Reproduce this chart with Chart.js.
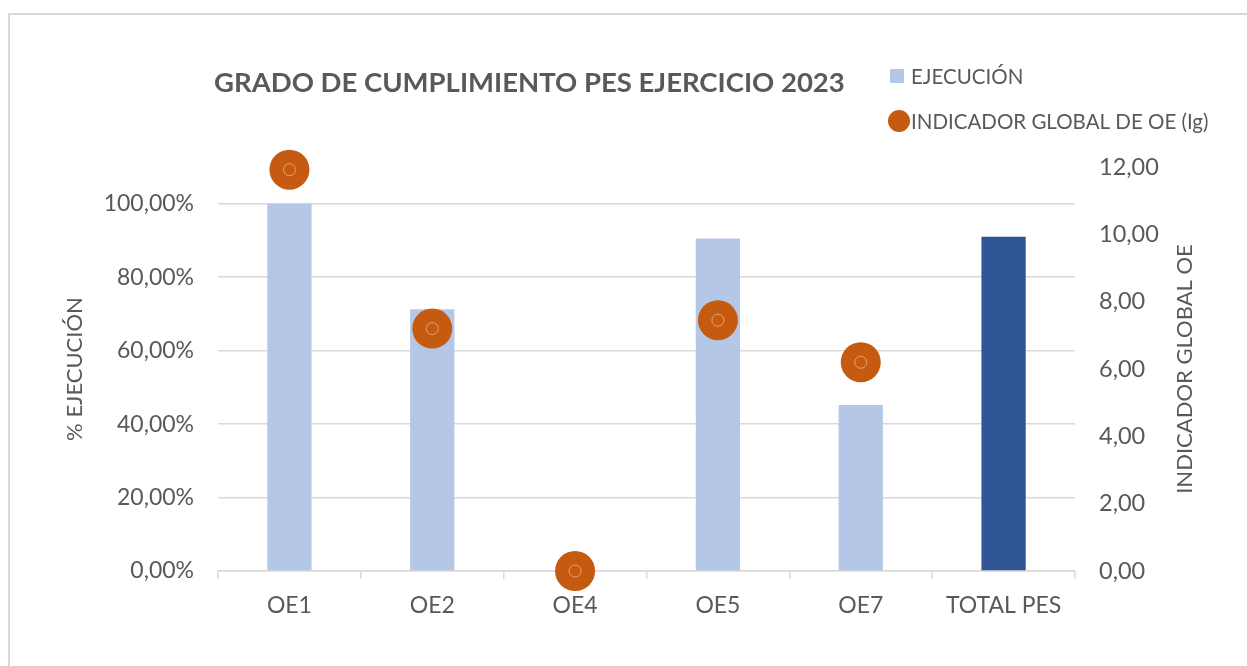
<!DOCTYPE html>
<html>
<head>
<meta charset="utf-8">
<script src="https://cdn.jsdelivr.net/npm/chart.js@4"></script>
<style>
    body { margin: 0; background: #fff; overflow: hidden; }
    #frame { position: absolute; left: 8px; top: 13px; width: 1260px; height: 700px; border: 2px solid #d9d9d9; }
    #wrap { position: absolute; left: 0; top: 0; width: 1247px; height: 666px; }
</style>
</head>
<body>
<div id="frame"></div>
<div id="wrap"><canvas id="chart" width="1247" height="666"></canvas></div>
<script>
const categories = ['OE1', 'OE2', 'OE4', 'OE5', 'OE7', 'TOTAL PES'];
const ejecucion = [100, 71.3, 0, 90.5, 45.2, 91.0];
const indicadorGlobal = [11.92, 7.2, 0, 7.45, 6.2, null];
const leftTicks = [0, 20, 40, 60, 80, 100];
const rightTicks = [0, 2, 4, 6, 8, 10, 12];

const FONT = 'Lato';
const GREY = '#595959';
const barColors = categories.map(c => c === 'TOTAL PES' ? '#2F5597' : '#B4C7E7');

const fmt = v => v.toFixed(2).replace('.', ',');

// title and legend sit in one row above the plot, so they are drawn here,
// plus the right axis title which reads bottom-to-top in the original
const headerPlugin = {
    id: 'header',
    afterDraw(chart) {
        const c = chart.ctx;
        c.save();
        c.fillStyle = GREY;
        c.textBaseline = 'middle';
        c.textAlign = 'left';
        c.font = `bold 27.5px ${FONT}`;
        c.fillText('GRADO DE CUMPLIMIENTO PES EJERCICIO 2023', 214, 83);

        c.font = `20.5px ${FONT}`;
        c.fillStyle = '#B4C7E7';
        c.fillRect(890, 69, 14, 14);
        c.fillStyle = GREY;
        c.fillText('EJECUCIÓN', 911, 77);

        c.fillStyle = '#C55A11';
        c.beginPath();
        c.arc(899, 121, 11, 0, Math.PI * 2);
        c.fill();
        c.fillStyle = GREY;
        c.fillText('INDICADOR GLOBAL DE OE (Ig)', 911, 122);

        const area = chart.chartArea;
        c.translate(1185, (area.top + area.bottom) / 2);
        c.rotate(-Math.PI / 2);
        c.textAlign = 'center';
        c.font = `22px ${FONT}`;
        c.fillText('INDICADOR GLOBAL OE', 0, 0);
        c.restore();
    }
};

const ctx = document.getElementById('chart').getContext('2d');
new Chart(ctx, {
    data: {
        labels: categories,
        datasets: [
            {
                type: 'line',
                label: 'INDICADOR GLOBAL DE OE (Ig)',
                data: indicadorGlobal,
                yAxisID: 'y1',
                showLine: false,
                pointRadius: 20,
                pointBackgroundColor: '#C55A11',
                pointBorderColor: '#C55A11',
                pointBorderWidth: 0,
                clip: false,
                order: 1
            },
            {
                type: 'line',
                label: 'ring',
                data: indicadorGlobal,
                yAxisID: 'y1',
                showLine: false,
                pointRadius: 6,
                pointBackgroundColor: 'rgba(0,0,0,0)',
                pointBorderColor: 'rgba(244, 177, 131, 0.8)',
                pointBorderWidth: 1,
                clip: false,
                order: 0
            },
            {
                type: 'bar',
                label: 'EJECUCIÓN',
                data: ejecucion,
                yAxisID: 'y',
                backgroundColor: barColors,
                categoryPercentage: 1,
                barPercentage: 0.31,
                order: 2
            }
        ]
    },
    options: {
        responsive: false,
        animation: false,
        layout: { padding: { top: 167, bottom: 0, left: 0, right: 0 } },
        plugins: {
            legend: { display: false },
            title: { display: false },
            tooltip: { enabled: false }
        },
        scales: {
            x: {
                offset: true,
                grid: { offset: true, drawOnChartArea: false, color: '#d9d9d9', lineWidth: 1.5, tickLength: 8 },
                border: { color: '#d9d9d9', width: 1.5 },
                ticks: { color: GREY, font: { family: FONT, size: 23 }, padding: 13 },
                afterFit: s => { s.height = 95; }
            },
            y: {
                position: 'left',
                min: 0,
                max: 110,
                afterBuildTicks: axis => { axis.ticks = leftTicks.map(v => ({ value: v })); },
                ticks: { color: GREY, font: { family: FONT, size: 23 }, padding: 24, callback: v => fmt(v) + '%' },
                grid: { color: '#d9d9d9', lineWidth: 1.5, drawTicks: false },
                border: { display: false },
                title: { display: true, text: '% EJECUCIÓN', color: GREY, font: { family: FONT, size: 22 }, padding: { top: 62, bottom: 0 } },
                afterFit: s => { s.width = 218; }
            },
            y1: {
                position: 'right',
                min: 0,
                max: 12,
                afterBuildTicks: axis => { axis.ticks = rightTicks.map(v => ({ value: v })); },
                ticks: { color: GREY, font: { family: FONT, size: 23.5 }, padding: 24, callback: v => fmt(v) },
                grid: { drawOnChartArea: false, drawTicks: false },
                border: { display: false },
                afterFit: s => { s.width = 172; }
            }
        }
    },
    plugins: [headerPlugin]
});
</script>
</body>
</html>
